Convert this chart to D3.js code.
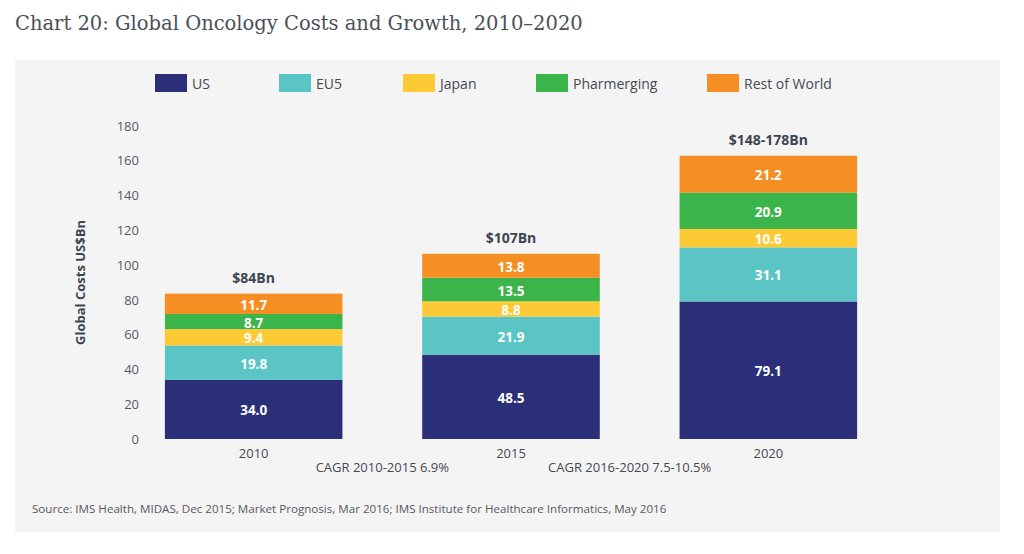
<!DOCTYPE html>
<html><head><meta charset="utf-8">
<script src="https://cdn.jsdelivr.net/npm/d3@7/dist/d3.min.js"></script>
<style>body{margin:0;background:#fff;} svg{display:block;}</style>
</head><body>
<svg id="c" width="1024" height="554"></svg>
<script>
const years = ["2010", "2015", "2020"];
const seriesNames = ["US", "EU5", "Japan", "Pharmerging", "Rest of World"];
const US = [34.0, 48.5, 79.1];
const EU5 = [19.8, 21.9, 31.1];
const Japan = [9.4, 8.8, 10.6];
const Pharmerging = [8.7, 13.5, 20.9];
const RestOfWorld = [11.7, 13.8, 21.2];
const totalLabels = ["$84Bn", "$107Bn", "$148-178Bn"];
const yTicks = [0, 20, 40, 60, 80, 100, 120, 140, 160, 180];
const cagrLabels = ["CAGR 2010-2015 6.9%", "CAGR 2016-2020 7.5-10.5%"];
const colors = ["#2b2f78", "#5bc4c4", "#fdca36", "#3bb44a", "#f58f23"];

const values = [US, EU5, Japan, Pharmerging, RestOfWorld];
const table = years.map((y, i) => {
  const o = {year: y};
  seriesNames.forEach((s, k) => o[s] = values[k][i]);
  return o;
});
const stack = d3.stack().keys(seriesNames)(table);

const svg = d3.select("#c");
const font = "'Open Sans', sans-serif";

// panel
svg.append("rect").attr("x", 15).attr("y", 60).attr("width", 985).attr("height", 472).attr("fill", "#f5f4f5");

// title
svg.append("text").attr("x", 15).attr("y", 30).attr("font-family", "'DejaVu Serif', serif")
  .attr("font-size", 19.5).attr("fill", "#4b5058").text("Chart 20: Global Oncology Costs and Growth, 2010–2020");

const x = d3.scaleBand().domain(years).range([125, 897]).paddingInner(0.31).paddingOuter(0.155);
const y = d3.scaleLinear().domain([0, 180]).range([439, 126]);

// y axis
const ya = svg.append("g").attr("transform", "translate(139,0)")
  .call(d3.axisLeft(y).tickValues(yTicks).tickSize(0).tickPadding(0));
ya.select(".domain").remove();
ya.selectAll("text").attr("font-family", font).attr("font-size", 13).attr("fill", "#555a60");

svg.append("text").attr("transform", `translate(85,${(y(0)+y(180))/2}) rotate(-90)`)
  .attr("text-anchor", "middle").attr("font-family", font).attr("font-weight", "bold")
  .attr("font-size", 13).attr("fill", "#3d4650").text("Global Costs US$Bn");

// bars
const layers = svg.selectAll("g.layer").data(stack).join("g").attr("class", "layer")
  .attr("fill", (d, i) => colors[i]);
layers.selectAll("rect").data(d => d).join("rect")
  .attr("x", d => x(d.data.year)).attr("width", x.bandwidth())
  .attr("y", d => y(d[1])).attr("height", d => y(d[0]) - y(d[1]));

// value labels
stack.forEach((layer, k) => {
  svg.append("g").selectAll("text").data(layer).join("text")
    .attr("x", d => x(d.data.year) + x.bandwidth() / 2)
    .attr("y", d => (y(d[0]) + y(d[1])) / 2 + 6)
    .attr("text-anchor", "middle").attr("font-family", font).attr("font-weight", "bold")
    .attr("font-size", 13.5).attr("fill", "#fff")
    .text(d => values[k][years.indexOf(d.data.year)].toFixed(1));
});

// totals
const topLayer = stack[stack.length - 1];
svg.append("g").selectAll("text").data(topLayer).join("text")
  .attr("x", d => x(d.data.year) + x.bandwidth() / 2)
  .attr("y", d => y(d[1]) - 11)
  .attr("text-anchor", "middle").attr("font-family", font).attr("font-weight", "bold")
  .attr("font-size", 14).attr("fill", "#3d4650")
  .text((d, i) => totalLabels[i]);

// x labels
svg.append("g").selectAll("text").data(years).join("text")
  .attr("x", d => x(d) + x.bandwidth() / 2).attr("y", 458)
  .attr("text-anchor", "middle").attr("font-family", font).attr("font-size", 13).attr("fill", "#444a50")
  .text(d => d);

// CAGR labels
svg.append("g").selectAll("text").data(cagrLabels).join("text")
  .attr("x", (d, i) => (x(years[i]) + x(years[i + 1]) + x.bandwidth()) / 2 - i * 10)
  .attr("y", 472)
  .attr("text-anchor", "middle").attr("font-family", font).attr("font-size", 13).attr("fill", "#444a50")
  .text(d => d);

// legend
const legendX = [155, 279, 403, 536, 707];
const lg = svg.append("g").selectAll("g").data(seriesNames).join("g")
  .attr("transform", (d, i) => `translate(${legendX[i]},74)`);
lg.append("rect").attr("width", 32).attr("height", 18).attr("fill", (d, i) => colors[i]);
lg.append("text").attr("x", 37).attr("y", 14.5).attr("font-family", font).attr("font-size", 14)
  .attr("fill", "#444a50").text(d => d);

// source
svg.append("text").attr("x", 32).attr("y", 513).attr("font-family", font).attr("font-size", 11.6)
  .attr("fill", "#555a60")
  .text("Source: IMS Health, MIDAS, Dec 2015; Market Prognosis, Mar 2016; IMS Institute for Healthcare Informatics, May 2016");
</script>
</body></html>
